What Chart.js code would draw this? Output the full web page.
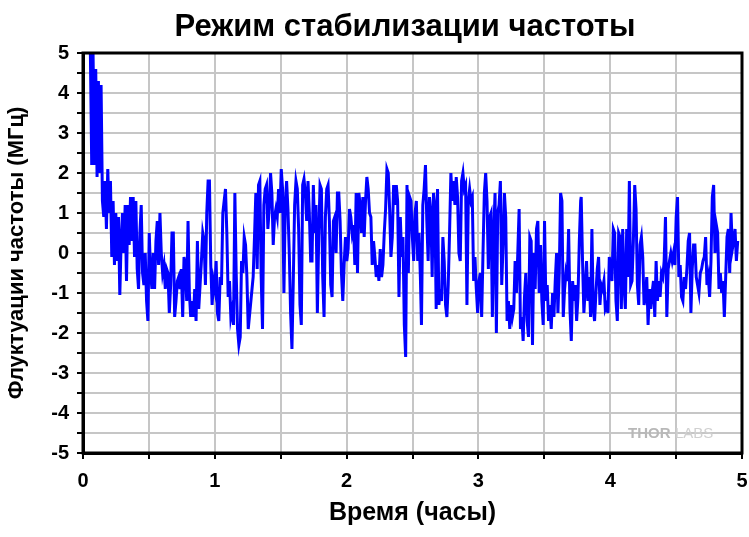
<!DOCTYPE html>
<html>
<head>
<meta charset="utf-8">
<script src="https://cdn.jsdelivr.net/npm/chart.js@4"></script>
<style>
  html, body { margin: 0; padding: 0; background: #fff; }
  #wrap { width: 749px; height: 537px; }
</style>
</head>
<body>
<div id="wrap"><canvas id="chart" width="749" height="537"></canvas></div>
<script>
const titleText = "Режим стабилизации частоты";
const xTitle = "Время (часы)";
const yTitle = "Флуктуации частоты (МГц)";

const sampleStep = 0.01015; // hours between readings
const blockStarts = [0.056, 1.291, 2.568, 3.780];

// frequency fluctuation in MHz
const block1 = [
    5.0, 2.2, 5.0, 2.2, 4.6, 1.9, 4.3, 2.0, 4.2, 1.3, 0.9, 1.8, 0.6, 2.1, 1.0, 1.8, -0.1, 1.3, -0.3, 1.0,
    -0.2, 0.9, -1.05, 0.3, 1.0, 0.0, 1.2, -0.7, 1.2, 0.2, 1.4, 0.3, 1.4, -0.1, 1.3, -0.4, -0.9, 0.5, 1.2, -0.5,
    -0.8, 0.0, -1.2, -1.7, 0.5, -0.5, -0.9, 0.0, -0.9, 0.3, 0.8, -0.3, 1.0, 0.0, -0.5, -0.3, -0.9, -0.4, -0.5, -1.5,
    -0.8, 0.5, 0.5, -1.6, -1.2, -0.7, -0.6, -0.9, -0.4, -1.6, -0.1, -0.3, -1.2, 0.8, -1.0, -1.6, -1.2, -1.6, -0.9, -1.7,
    0.3, -1.4, -0.8, -0.2, 0.5, 0.3, -0.8, 1.0, 1.8, 1.8, -0.3, -1.3, -0.7, -0.9, -0.2, -1.5, -1.7, -0.6, -0.8, 1.0,
    1.3, 1.6, 0.5, -1.1, -0.7, -1.6, -1.4, -1.8, 1.5, -0.5, -1.9, -2.3, -2.1, -0.2, -0.5, 0.4, 0.2, -0.6, -1.9
];
const block2 = [
    -0.6, 0.4, 1.5, -0.4, 1.7, 1.8, -0.6, -1.9, 1.2, 1.6, 1.7, 0.6, 1.1, 2.0, 1.5, 0.2, 0.9, 1.1, 0.9, 1.6,
    1.0, 2.1, 1.6, -1.0, 1.2, 1.8, 1.1, 0.0, -1.5, -2.4, -0.7, 1.2, 1.8, 1.6, 0.6, -1.3, -1.8, 1.7, 1.85, 1.5,
    0.8, 1.8, 1.0, -0.2, -0.2, 1.7, 0.5, 1.2, -1.5, 0.4, 1.7, 1.6, -0.6, -1.6, 0.9, 1.6, 1.7, 0.8, -0.8, -1.1,
    0.8, 0.9, 0.0, 1.5, 1.5, 0.8, -0.5, -1.2, -0.3, 0.4, -0.2, 0.1, 1.1, 0.9, 0.5, 0.7, -0.3, 1.5, -0.5, 1.5,
    1.2, 0.5, 1.4, 0.4, 1.3, 1.9, 1.6, 1.0, 0.9, -0.3, 0.3, -0.1, -0.6, -0.3, -0.7, 0.1, -0.6, -0.3, 0.5, 1.1,
    2.1, 2.0, 1.1, -0.1, 0.4, 1.7, 1.2, 1.7, 1.3, -1.1, 0.9, -0.1, 0.4, -1.8, -2.6, 1.7, -0.5, 1.4, 1.3, 0.4,
    -0.2, 1.0, 1.3, -0.2, 0.5, -0.6
];
const block3 = [
    -1.8, 1.2, 1.6, 2.2, 0.8, -0.2, 1.4, 1.0, -0.6, 1.5, 1.2, -1.4, 1.6, -1.3, -0.9, -1.2, 0.4, -0.2, -1.3, -1.6,
    -0.8, 0.5, 2.0, 1.3, 1.8, 1.2, 1.9, 1.4, 0.0, -0.2, 1.8, 2.0, 1.6, 1.7, -1.3, 1.3, 1.6, 1.3, 1.4, -0.7,
    -0.1, -0.9, -1.5, -0.7, -0.5, -1.6, 0.0, 1.5, 2.0, 1.3, -0.4, 0.9, 1.0, -1.6, 0.5, 1.5, -2.0, 1.0, 1.2, 1.8,
    -0.8, 0.2, 1.5, 0.9, -1.7, -1.2, -1.9, -1.3, -1.6, -1.4, -0.2, -1.0, 0.0, 1.1, -1.9, -1.6, -2.2, -1.1, -0.5, -1.7,
    -2.1, 0.4, 0.3, -2.3, 0.0, -0.9, 0.6, 0.8, -1.0, 0.2, -1.2, -1.8, 0.8, -1.2, -0.8, -1.7, -1.3, -1.9, -1.0, -1.6,
    -0.7, 0.0, -1.5, -0.5, 1.5, 1.3, -1.6, -0.9, -0.5, -0.7, 0.6, -1.4, -2.2, -0.7, -1.2, -0.8, -1.7, -1.1, 0.3, 1.3
];
const block4 = [
    1.4, -0.2, -1.5, -0.9, -0.2, -1.2, -0.6, -1.6, 0.6, -1.4, -1.7, -1.0, -0.4, -0.1, -1.3, -0.8, -0.9, -0.7, -1.4, -1.3,
    -1.5, -0.1, -0.4, -0.7, 0.6, 0.5, -1.2, -1.7, 0.5, 0.4, -1.4, 0.6, -0.8, -1.4, 0.6, -0.6, 1.8, -0.8, -0.7, 0.3,
    1.7, 1.1, -0.8, -1.3, 0.2, 0.4, -0.1, -1.3, -1.1, -0.6, -1.8, -0.9, -1.4, -1.0, -0.7, -1.6, -0.2, -1.2, -0.7, -1.1,
    -0.5, -0.6, -0.2, 0.9, -1.6, -0.4, -0.2, 0.0, -0.2, 0.0, -0.3, 0.9, 1.4, -0.6, -0.3, -1.1, -1.2, -0.6, -0.9, -0.4,
    0.3, 0.5, -1.5, -0.4, 0.2, 0.2, -0.6, -0.8, -1.0, -0.5, -0.4, -0.2, -0.1, 0.4, -0.8, -0.6, -1.1, -0.2, 1.4, 1.7,
    0.0, 0.7, 0.5, -0.9, -0.5, -1.0, -0.7, -1.6, -0.6, 0.4, 0.6, -0.5, 1.0, 0.1, 0.3, 0.6, -0.2, 0.3
];

const points = [];
[block1, block2, block3, block4].forEach((blk, b) => {
    blk.forEach((v, i) => {
        const h = blockStarts[b] + i * sampleStep;
        if (h <= 5) points.push({ x: h, y: v });
    });
});

const font = "Arial, 'Liberation Sans', sans-serif";

const decor = {
    id: "decor",
    afterDraw(chart) {
        const { ctx, chartArea: a } = chart;
        ctx.save();
        ctx.strokeStyle = "#000";
        ctx.lineWidth = 3;
        ctx.strokeRect(a.left, a.top, a.right - a.left, a.bottom - a.top);
        ctx.fillStyle = "#000";
        ctx.font = "bold 31px " + font;
        ctx.textAlign = "center";
        ctx.textBaseline = "middle";
        ctx.fillText(titleText, 405, 27);
        ctx.textAlign = "left";
        ctx.font = "bold 15px " + font;
        ctx.fillStyle = "#b8b8b8";
        ctx.fillText("THOR", 628, 434);
        ctx.fillStyle = "#d0d0d0";
        ctx.font = "15px " + font;
        ctx.fillText("LABS", 675, 434);
        ctx.restore();
    }
};

new Chart(document.getElementById("chart"), {
    type: "line",
    data: {
        datasets: [{
            data: points,
            borderColor: "#0000ff",
            borderWidth: 3,
            pointRadius: 0,
            tension: 0,
            fill: false
        }]
    },
    options: {
        responsive: false,
        animation: false,
        layout: { padding: { top: 53, right: 4, left: 0, bottom: 0 } },
        plugins: { legend: { display: false }, tooltip: { enabled: false } },
        scales: {
            x: {
                type: "linear",
                min: 0,
                max: 5,
                afterFit: (s) => { s.height = 84; s.paddingRight = 7; },
                ticks: {
                    stepSize: 0.5,
                    autoSkip: false,
                    maxRotation: 0,
                    padding: 10,
                    color: "#000",
                    font: { family: font, size: 20, weight: "bold" },
                    callback: (v) => Number.isInteger(v) ? v : ""
                },
                grid: { color: "#c6c6c6", lineWidth: 2, tickColor: "#000", tickLength: 6, tickWidth: 2 },
                border: { color: "#000", width: 3 },
                title: {
                    display: true,
                    text: xTitle,
                    color: "#000",
                    font: { family: font, size: 25, weight: "bold" },
                    padding: { top: 0, bottom: 9 }
                }
            },
            y: {
                min: -5,
                max: 5,
                afterFit: (s) => { s.width = 83; },
                ticks: {
                    stepSize: 0.5,
                    autoSkip: false,
                    padding: 8,
                    color: "#000",
                    font: { family: font, size: 20, weight: "bold" },
                    callback: (v) => Number.isInteger(v) ? v : ""
                },
                grid: { color: "#c6c6c6", lineWidth: 2, tickColor: "#000", tickLength: 6, tickWidth: 2 },
                border: { color: "#000", width: 3 },
                title: {
                    display: true,
                    text: yTitle,
                    color: "#000",
                    font: { family: font, size: 22, weight: "bold" },
                    padding: { top: 4, bottom: 0 }
                }
            }
        }
    },
    plugins: [decor]
});
</script>
</body>
</html>
